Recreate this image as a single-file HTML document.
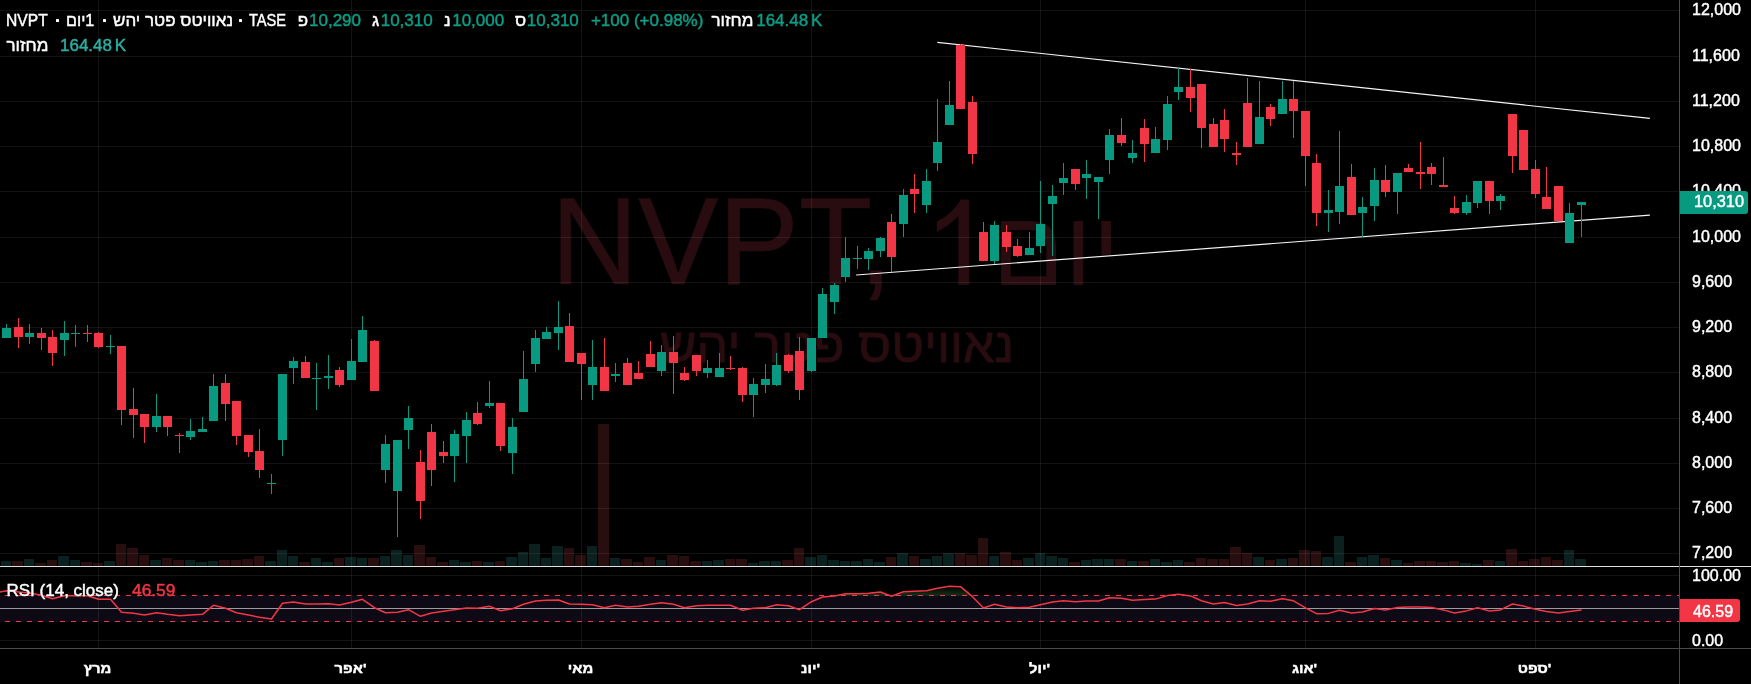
<!DOCTYPE html>
<html><head><meta charset="utf-8"><title>NVPT</title>
<style>
html,body{margin:0;padding:0;background:#000;}
body{width:1751px;height:684px;position:relative;overflow:hidden;font-family:"Liberation Sans",sans-serif;}
.t{position:absolute;white-space:nowrap;line-height:1.2;color:#fff;-webkit-text-stroke:0.45px;}
.w{-webkit-text-stroke:0;}
svg{position:absolute;left:0;top:0;}
</style></head><body>
<div class="t w" style="left:551px;top:180px;font-size:123.5px;color:#290c10;line-height:1;-webkit-text-stroke:0.6px #290c10;transform:scaleX(0.976);transform-origin:0 0">NVPT,</div><div class="t w" style="left:992px;top:194.5px;font-size:107px;color:#290c10;line-height:1;transform:scaleX(1.0);transform-origin:0 0"><span dir="rtl">יום</span></div><svg width="1751" height="684" viewBox="0 0 1751 684"><path d="M958.3 199.4H969.2V284.8H958.3V216Q949 226 936.8 232V221.5Q953 213 961 199.4Z" fill="#290c10"/></svg><div class="t w" style="left:537px;top:321.5px;width:600px;text-align:center;font-size:47.7px;color:#290c10;line-height:1;-webkit-text-stroke:0.9px #290c10;transform:scaleX(1.051);transform-origin:50% 0"><span dir="rtl">נאוויטס פטר יהש</span></div>
<svg width="1751" height="684" viewBox="0 0 1751 684" shape-rendering="crispEdges">
<rect x="1" y="561" width="10" height="5" fill="#0a211f"/>
<rect x="12" y="561" width="11" height="5" fill="#290e10"/>
<rect x="24" y="559" width="10" height="7" fill="#0a211f"/>
<rect x="35" y="563" width="11" height="3" fill="#290e10"/>
<rect x="47" y="560" width="10" height="6" fill="#290e10"/>
<rect x="58" y="556" width="11" height="10" fill="#0a211f"/>
<rect x="70" y="560" width="10" height="6" fill="#0a211f"/>
<rect x="81" y="562" width="11" height="4" fill="#290e10"/>
<rect x="93" y="563" width="10" height="3" fill="#290e10"/>
<rect x="104" y="561" width="11" height="5" fill="#0a211f"/>
<rect x="116" y="544" width="10" height="22" fill="#290e10"/>
<rect x="127" y="548" width="11" height="18" fill="#290e10"/>
<rect x="139" y="555" width="10" height="11" fill="#290e10"/>
<rect x="150" y="560" width="11" height="6" fill="#0a211f"/>
<rect x="162" y="558" width="10" height="8" fill="#290e10"/>
<rect x="173" y="560" width="11" height="6" fill="#290e10"/>
<rect x="185" y="560" width="10" height="6" fill="#0a211f"/>
<rect x="196" y="562" width="11" height="4" fill="#0a211f"/>
<rect x="208" y="561" width="10" height="5" fill="#0a211f"/>
<rect x="219" y="560" width="11" height="6" fill="#290e10"/>
<rect x="231" y="560" width="10" height="6" fill="#290e10"/>
<rect x="242" y="559" width="11" height="7" fill="#290e10"/>
<rect x="254" y="556" width="10" height="10" fill="#290e10"/>
<rect x="265" y="561" width="11" height="5" fill="#0a211f"/>
<rect x="277" y="550" width="10" height="16" fill="#0a211f"/>
<rect x="288" y="556" width="10" height="10" fill="#0a211f"/>
<rect x="299" y="562" width="11" height="4" fill="#290e10"/>
<rect x="311" y="558" width="10" height="8" fill="#0a211f"/>
<rect x="322" y="562" width="11" height="4" fill="#0a211f"/>
<rect x="334" y="558" width="10" height="8" fill="#290e10"/>
<rect x="345" y="557" width="11" height="9" fill="#0a211f"/>
<rect x="357" y="558" width="10" height="8" fill="#0a211f"/>
<rect x="368" y="558" width="11" height="8" fill="#290e10"/>
<rect x="380" y="556" width="10" height="10" fill="#0a211f"/>
<rect x="391" y="550" width="11" height="16" fill="#0a211f"/>
<rect x="403" y="555" width="10" height="11" fill="#0a211f"/>
<rect x="414" y="545" width="11" height="21" fill="#290e10"/>
<rect x="426" y="557" width="10" height="9" fill="#290e10"/>
<rect x="437" y="562" width="11" height="4" fill="#290e10"/>
<rect x="449" y="560" width="10" height="6" fill="#0a211f"/>
<rect x="460" y="562" width="11" height="4" fill="#0a211f"/>
<rect x="472" y="561" width="10" height="5" fill="#290e10"/>
<rect x="483" y="562" width="11" height="4" fill="#0a211f"/>
<rect x="495" y="561" width="10" height="5" fill="#290e10"/>
<rect x="506" y="557" width="11" height="9" fill="#0a211f"/>
<rect x="518" y="552" width="10" height="14" fill="#0a211f"/>
<rect x="529" y="544" width="11" height="22" fill="#0a211f"/>
<rect x="541" y="558" width="10" height="8" fill="#0a211f"/>
<rect x="552" y="546" width="11" height="20" fill="#0a211f"/>
<rect x="564" y="548" width="10" height="18" fill="#290e10"/>
<rect x="575" y="555" width="11" height="11" fill="#290e10"/>
<rect x="587" y="546" width="10" height="20" fill="#0a211f"/>
<rect x="598" y="424" width="11" height="142" fill="#290e10"/>
<rect x="610" y="558" width="10" height="8" fill="#0a211f"/>
<rect x="621" y="559" width="11" height="7" fill="#290e10"/>
<rect x="633" y="562" width="10" height="4" fill="#290e10"/>
<rect x="644" y="557" width="11" height="9" fill="#290e10"/>
<rect x="656" y="560" width="10" height="6" fill="#0a211f"/>
<rect x="667" y="555" width="11" height="11" fill="#290e10"/>
<rect x="679" y="556" width="10" height="10" fill="#290e10"/>
<rect x="690" y="561" width="11" height="5" fill="#290e10"/>
<rect x="702" y="561" width="10" height="5" fill="#0a211f"/>
<rect x="713" y="560" width="11" height="6" fill="#0a211f"/>
<rect x="725" y="559" width="10" height="7" fill="#290e10"/>
<rect x="736" y="559" width="11" height="7" fill="#290e10"/>
<rect x="748" y="563" width="10" height="3" fill="#0a211f"/>
<rect x="759" y="561" width="11" height="5" fill="#0a211f"/>
<rect x="771" y="561" width="10" height="5" fill="#0a211f"/>
<rect x="782" y="560" width="11" height="6" fill="#290e10"/>
<rect x="794" y="548" width="10" height="18" fill="#290e10"/>
<rect x="805" y="557" width="11" height="9" fill="#0a211f"/>
<rect x="817" y="555" width="10" height="11" fill="#0a211f"/>
<rect x="828" y="560" width="11" height="6" fill="#0a211f"/>
<rect x="840" y="561" width="10" height="5" fill="#0a211f"/>
<rect x="851" y="561" width="11" height="5" fill="#0a211f"/>
<rect x="863" y="559" width="10" height="7" fill="#0a211f"/>
<rect x="874" y="562" width="11" height="4" fill="#0a211f"/>
<rect x="886" y="557" width="10" height="9" fill="#290e10"/>
<rect x="897" y="553" width="11" height="13" fill="#0a211f"/>
<rect x="909" y="556" width="10" height="10" fill="#290e10"/>
<rect x="920" y="559" width="11" height="7" fill="#0a211f"/>
<rect x="932" y="556" width="10" height="10" fill="#0a211f"/>
<rect x="943" y="553" width="11" height="13" fill="#0a211f"/>
<rect x="955" y="553" width="10" height="13" fill="#290e10"/>
<rect x="966" y="555" width="11" height="11" fill="#290e10"/>
<rect x="978" y="538" width="10" height="28" fill="#290e10"/>
<rect x="989" y="556" width="10" height="10" fill="#0a211f"/>
<rect x="1000" y="552" width="11" height="14" fill="#290e10"/>
<rect x="1012" y="560" width="10" height="6" fill="#290e10"/>
<rect x="1023" y="558" width="11" height="8" fill="#0a211f"/>
<rect x="1035" y="553" width="10" height="13" fill="#0a211f"/>
<rect x="1046" y="556" width="11" height="10" fill="#0a211f"/>
<rect x="1058" y="558" width="10" height="8" fill="#0a211f"/>
<rect x="1069" y="562" width="11" height="4" fill="#290e10"/>
<rect x="1081" y="560" width="10" height="6" fill="#0a211f"/>
<rect x="1092" y="559" width="11" height="7" fill="#0a211f"/>
<rect x="1104" y="559" width="10" height="7" fill="#0a211f"/>
<rect x="1115" y="559" width="11" height="7" fill="#290e10"/>
<rect x="1127" y="561" width="10" height="5" fill="#0a211f"/>
<rect x="1138" y="561" width="11" height="5" fill="#290e10"/>
<rect x="1150" y="559" width="10" height="7" fill="#0a211f"/>
<rect x="1161" y="562" width="11" height="4" fill="#0a211f"/>
<rect x="1173" y="560" width="10" height="6" fill="#0a211f"/>
<rect x="1184" y="562" width="11" height="4" fill="#290e10"/>
<rect x="1196" y="558" width="10" height="8" fill="#290e10"/>
<rect x="1207" y="559" width="11" height="7" fill="#290e10"/>
<rect x="1219" y="559" width="10" height="7" fill="#290e10"/>
<rect x="1230" y="547" width="11" height="19" fill="#290e10"/>
<rect x="1242" y="553" width="10" height="13" fill="#290e10"/>
<rect x="1253" y="557" width="11" height="9" fill="#0a211f"/>
<rect x="1265" y="560" width="10" height="6" fill="#290e10"/>
<rect x="1276" y="559" width="11" height="7" fill="#0a211f"/>
<rect x="1288" y="558" width="10" height="8" fill="#290e10"/>
<rect x="1299" y="550" width="11" height="16" fill="#290e10"/>
<rect x="1311" y="551" width="10" height="15" fill="#290e10"/>
<rect x="1322" y="557" width="11" height="9" fill="#0a211f"/>
<rect x="1334" y="536" width="10" height="30" fill="#0a211f"/>
<rect x="1345" y="562" width="11" height="4" fill="#290e10"/>
<rect x="1357" y="557" width="10" height="9" fill="#0a211f"/>
<rect x="1368" y="555" width="11" height="11" fill="#0a211f"/>
<rect x="1380" y="558" width="10" height="8" fill="#290e10"/>
<rect x="1391" y="560" width="11" height="6" fill="#0a211f"/>
<rect x="1403" y="563" width="10" height="3" fill="#290e10"/>
<rect x="1414" y="561" width="11" height="5" fill="#290e10"/>
<rect x="1426" y="561" width="10" height="5" fill="#290e10"/>
<rect x="1437" y="562" width="11" height="4" fill="#290e10"/>
<rect x="1449" y="561" width="10" height="5" fill="#290e10"/>
<rect x="1460" y="563" width="11" height="3" fill="#0a211f"/>
<rect x="1472" y="564" width="10" height="2" fill="#0a211f"/>
<rect x="1483" y="560" width="11" height="6" fill="#290e10"/>
<rect x="1495" y="561" width="10" height="5" fill="#0a211f"/>
<rect x="1506" y="549" width="11" height="17" fill="#290e10"/>
<rect x="1518" y="561" width="10" height="5" fill="#290e10"/>
<rect x="1529" y="559" width="11" height="7" fill="#290e10"/>
<rect x="1541" y="557" width="10" height="9" fill="#290e10"/>
<rect x="1552" y="560" width="11" height="6" fill="#290e10"/>
<rect x="1564" y="550" width="10" height="16" fill="#0a211f"/>
<rect x="1575" y="559" width="11" height="7" fill="#0a211f"/>
<rect x="0" y="595" width="1679" height="27" fill="#0e0a15"/>
<rect x="0" y="10" width="1679" height="1" fill="rgba(255,255,255,0.075)"/>
<rect x="0" y="56" width="1679" height="1" fill="rgba(255,255,255,0.075)"/>
<rect x="0" y="101" width="1679" height="1" fill="rgba(255,255,255,0.075)"/>
<rect x="0" y="146" width="1679" height="1" fill="rgba(255,255,255,0.075)"/>
<rect x="0" y="191" width="1679" height="1" fill="rgba(255,255,255,0.075)"/>
<rect x="0" y="237" width="1679" height="1" fill="rgba(255,255,255,0.075)"/>
<rect x="0" y="282" width="1679" height="1" fill="rgba(255,255,255,0.075)"/>
<rect x="0" y="327" width="1679" height="1" fill="rgba(255,255,255,0.075)"/>
<rect x="0" y="372" width="1679" height="1" fill="rgba(255,255,255,0.075)"/>
<rect x="0" y="418" width="1679" height="1" fill="rgba(255,255,255,0.075)"/>
<rect x="0" y="463" width="1679" height="1" fill="rgba(255,255,255,0.075)"/>
<rect x="0" y="508" width="1679" height="1" fill="rgba(255,255,255,0.075)"/>
<rect x="0" y="553" width="1679" height="1" fill="rgba(255,255,255,0.075)"/>
<rect x="98" y="0" width="1" height="648" fill="rgba(255,255,255,0.075)"/>
<rect x="351" y="0" width="1" height="648" fill="rgba(255,255,255,0.075)"/>
<rect x="581" y="0" width="1" height="648" fill="rgba(255,255,255,0.075)"/>
<rect x="811" y="0" width="1" height="648" fill="rgba(255,255,255,0.075)"/>
<rect x="1040" y="0" width="1" height="648" fill="rgba(255,255,255,0.075)"/>
<rect x="1305" y="0" width="1" height="648" fill="rgba(255,255,255,0.075)"/>
<rect x="1535" y="0" width="1" height="648" fill="rgba(255,255,255,0.075)"/>
<rect x="0" y="575" width="1679" height="1" fill="rgba(255,255,255,0.075)"/>
<rect x="0" y="640" width="1679" height="1" fill="rgba(255,255,255,0.075)"/>
<line x1="937.3" y1="42.4" x2="1649.9" y2="118.4" stroke="#f4f4f4" stroke-width="1.15" shape-rendering="geometricPrecision"/>
<line x1="856.1" y1="275.0" x2="1649.9" y2="215.1" stroke="#f4f4f4" stroke-width="1.15" shape-rendering="geometricPrecision"/>
<rect x="6" y="324" width="1" height="14" fill="#089981"/>
<rect x="2" y="328" width="9" height="10" fill="#089981"/>
<rect x="18" y="318" width="1" height="30" fill="#f23645"/>
<rect x="14" y="327" width="9" height="10" fill="#f23645"/>
<rect x="29" y="324" width="1" height="20" fill="#089981"/>
<rect x="25" y="333" width="9" height="4" fill="#089981"/>
<rect x="41" y="328" width="1" height="22" fill="#f23645"/>
<rect x="37" y="333" width="9" height="5" fill="#f23645"/>
<rect x="52" y="330" width="1" height="36" fill="#f23645"/>
<rect x="48" y="337" width="9" height="16" fill="#f23645"/>
<rect x="64" y="321" width="1" height="35" fill="#089981"/>
<rect x="60" y="333" width="9" height="7" fill="#089981"/>
<rect x="75" y="325" width="1" height="22" fill="#089981"/>
<rect x="71" y="333" width="9" height="1" fill="#089981"/>
<rect x="87" y="325" width="1" height="17" fill="#f23645"/>
<rect x="83" y="333" width="9" height="1" fill="#f23645"/>
<rect x="98" y="332" width="1" height="16" fill="#f23645"/>
<rect x="94" y="333" width="9" height="14" fill="#f23645"/>
<rect x="110" y="335" width="1" height="19" fill="#089981"/>
<rect x="106" y="346" width="9" height="1" fill="#089981"/>
<rect x="121" y="346" width="1" height="79" fill="#f23645"/>
<rect x="117" y="346" width="9" height="64" fill="#f23645"/>
<rect x="133" y="388" width="1" height="50" fill="#f23645"/>
<rect x="129" y="409" width="9" height="6" fill="#f23645"/>
<rect x="144" y="414" width="1" height="29" fill="#f23645"/>
<rect x="140" y="414" width="9" height="13" fill="#f23645"/>
<rect x="156" y="394" width="1" height="38" fill="#089981"/>
<rect x="152" y="416" width="9" height="11" fill="#089981"/>
<rect x="167" y="416" width="1" height="20" fill="#f23645"/>
<rect x="163" y="416" width="9" height="11" fill="#f23645"/>
<rect x="179" y="433" width="1" height="20" fill="#f23645"/>
<rect x="175" y="435" width="9" height="1" fill="#f23645"/>
<rect x="190" y="419" width="1" height="21" fill="#089981"/>
<rect x="186" y="431" width="9" height="6" fill="#089981"/>
<rect x="202" y="417" width="1" height="15" fill="#089981"/>
<rect x="198" y="429" width="9" height="3" fill="#089981"/>
<rect x="213" y="374" width="1" height="47" fill="#089981"/>
<rect x="209" y="386" width="9" height="35" fill="#089981"/>
<rect x="225" y="374" width="1" height="47" fill="#f23645"/>
<rect x="221" y="383" width="9" height="21" fill="#f23645"/>
<rect x="236" y="401" width="1" height="44" fill="#f23645"/>
<rect x="232" y="401" width="9" height="35" fill="#f23645"/>
<rect x="248" y="435" width="1" height="22" fill="#f23645"/>
<rect x="244" y="435" width="9" height="17" fill="#f23645"/>
<rect x="259" y="429" width="1" height="49" fill="#f23645"/>
<rect x="255" y="451" width="9" height="19" fill="#f23645"/>
<rect x="271" y="474" width="1" height="20" fill="#089981"/>
<rect x="267" y="483" width="9" height="1" fill="#089981"/>
<rect x="282" y="374" width="1" height="82" fill="#089981"/>
<rect x="278" y="374" width="9" height="66" fill="#089981"/>
<rect x="293" y="357" width="1" height="27" fill="#089981"/>
<rect x="289" y="361" width="9" height="7" fill="#089981"/>
<rect x="305" y="356" width="1" height="22" fill="#f23645"/>
<rect x="301" y="362" width="9" height="16" fill="#f23645"/>
<rect x="316" y="363" width="1" height="47" fill="#089981"/>
<rect x="312" y="378" width="9" height="1" fill="#089981"/>
<rect x="328" y="355" width="1" height="34" fill="#089981"/>
<rect x="324" y="376" width="9" height="2" fill="#089981"/>
<rect x="339" y="367" width="1" height="20" fill="#f23645"/>
<rect x="335" y="370" width="9" height="15" fill="#f23645"/>
<rect x="351" y="339" width="1" height="41" fill="#089981"/>
<rect x="347" y="361" width="9" height="19" fill="#089981"/>
<rect x="362" y="316" width="1" height="46" fill="#089981"/>
<rect x="358" y="330" width="9" height="32" fill="#089981"/>
<rect x="374" y="340" width="1" height="51" fill="#f23645"/>
<rect x="370" y="341" width="9" height="50" fill="#f23645"/>
<rect x="385" y="435" width="1" height="48" fill="#089981"/>
<rect x="381" y="444" width="9" height="26" fill="#089981"/>
<rect x="397" y="440" width="1" height="97" fill="#089981"/>
<rect x="393" y="440" width="9" height="51" fill="#089981"/>
<rect x="408" y="406" width="1" height="43" fill="#089981"/>
<rect x="404" y="418" width="9" height="12" fill="#089981"/>
<rect x="420" y="450" width="1" height="69" fill="#f23645"/>
<rect x="416" y="462" width="9" height="39" fill="#f23645"/>
<rect x="431" y="424" width="1" height="62" fill="#f23645"/>
<rect x="427" y="432" width="9" height="38" fill="#f23645"/>
<rect x="443" y="441" width="1" height="22" fill="#f23645"/>
<rect x="439" y="452" width="9" height="4" fill="#f23645"/>
<rect x="454" y="430" width="1" height="52" fill="#089981"/>
<rect x="450" y="434" width="9" height="22" fill="#089981"/>
<rect x="466" y="412" width="1" height="51" fill="#089981"/>
<rect x="462" y="420" width="9" height="16" fill="#089981"/>
<rect x="477" y="402" width="1" height="23" fill="#f23645"/>
<rect x="473" y="413" width="9" height="11" fill="#f23645"/>
<rect x="489" y="381" width="1" height="27" fill="#089981"/>
<rect x="485" y="403" width="9" height="3" fill="#089981"/>
<rect x="500" y="403" width="1" height="48" fill="#f23645"/>
<rect x="496" y="403" width="9" height="43" fill="#f23645"/>
<rect x="512" y="418" width="1" height="56" fill="#089981"/>
<rect x="508" y="427" width="9" height="26" fill="#089981"/>
<rect x="523" y="351" width="1" height="61" fill="#089981"/>
<rect x="519" y="379" width="9" height="33" fill="#089981"/>
<rect x="535" y="330" width="1" height="42" fill="#089981"/>
<rect x="531" y="338" width="9" height="26" fill="#089981"/>
<rect x="546" y="327" width="1" height="12" fill="#089981"/>
<rect x="542" y="332" width="9" height="7" fill="#089981"/>
<rect x="558" y="301" width="1" height="49" fill="#089981"/>
<rect x="554" y="327" width="9" height="6" fill="#089981"/>
<rect x="569" y="313" width="1" height="49" fill="#f23645"/>
<rect x="565" y="326" width="9" height="36" fill="#f23645"/>
<rect x="581" y="353" width="1" height="47" fill="#f23645"/>
<rect x="577" y="353" width="9" height="11" fill="#f23645"/>
<rect x="592" y="340" width="1" height="60" fill="#089981"/>
<rect x="588" y="367" width="9" height="18" fill="#089981"/>
<rect x="604" y="338" width="1" height="53" fill="#f23645"/>
<rect x="600" y="367" width="9" height="24" fill="#f23645"/>
<rect x="615" y="363" width="1" height="19" fill="#089981"/>
<rect x="611" y="374" width="9" height="2" fill="#089981"/>
<rect x="627" y="358" width="1" height="27" fill="#f23645"/>
<rect x="623" y="363" width="9" height="22" fill="#f23645"/>
<rect x="638" y="361" width="1" height="18" fill="#f23645"/>
<rect x="634" y="373" width="9" height="6" fill="#f23645"/>
<rect x="650" y="341" width="1" height="26" fill="#f23645"/>
<rect x="646" y="354" width="9" height="13" fill="#f23645"/>
<rect x="661" y="345" width="1" height="31" fill="#089981"/>
<rect x="657" y="352" width="9" height="19" fill="#089981"/>
<rect x="673" y="336" width="1" height="58" fill="#f23645"/>
<rect x="669" y="352" width="9" height="11" fill="#f23645"/>
<rect x="684" y="367" width="1" height="14" fill="#f23645"/>
<rect x="680" y="373" width="9" height="7" fill="#f23645"/>
<rect x="696" y="355" width="1" height="21" fill="#f23645"/>
<rect x="692" y="355" width="9" height="16" fill="#f23645"/>
<rect x="707" y="360" width="1" height="18" fill="#089981"/>
<rect x="703" y="368" width="9" height="5" fill="#089981"/>
<rect x="719" y="353" width="1" height="24" fill="#089981"/>
<rect x="715" y="368" width="9" height="9" fill="#089981"/>
<rect x="730" y="356" width="1" height="14" fill="#f23645"/>
<rect x="726" y="368" width="9" height="1" fill="#f23645"/>
<rect x="742" y="367" width="1" height="35" fill="#f23645"/>
<rect x="738" y="368" width="9" height="27" fill="#f23645"/>
<rect x="753" y="378" width="1" height="39" fill="#089981"/>
<rect x="749" y="384" width="9" height="11" fill="#089981"/>
<rect x="765" y="364" width="1" height="29" fill="#089981"/>
<rect x="761" y="379" width="9" height="6" fill="#089981"/>
<rect x="776" y="353" width="1" height="33" fill="#089981"/>
<rect x="772" y="365" width="9" height="20" fill="#089981"/>
<rect x="788" y="354" width="1" height="19" fill="#f23645"/>
<rect x="784" y="355" width="9" height="16" fill="#f23645"/>
<rect x="799" y="337" width="1" height="63" fill="#f23645"/>
<rect x="795" y="351" width="9" height="39" fill="#f23645"/>
<rect x="811" y="338" width="1" height="34" fill="#089981"/>
<rect x="807" y="338" width="9" height="33" fill="#089981"/>
<rect x="822" y="288" width="1" height="50" fill="#089981"/>
<rect x="818" y="294" width="9" height="44" fill="#089981"/>
<rect x="834" y="283" width="1" height="31" fill="#089981"/>
<rect x="830" y="285" width="9" height="17" fill="#089981"/>
<rect x="845" y="237" width="1" height="45" fill="#089981"/>
<rect x="841" y="258" width="9" height="19" fill="#089981"/>
<rect x="857" y="246" width="1" height="23" fill="#089981"/>
<rect x="853" y="258" width="9" height="1" fill="#089981"/>
<rect x="868" y="248" width="1" height="22" fill="#089981"/>
<rect x="864" y="251" width="9" height="8" fill="#089981"/>
<rect x="880" y="237" width="1" height="20" fill="#089981"/>
<rect x="876" y="238" width="9" height="13" fill="#089981"/>
<rect x="891" y="214" width="1" height="58" fill="#f23645"/>
<rect x="887" y="222" width="9" height="35" fill="#f23645"/>
<rect x="903" y="189" width="1" height="48" fill="#089981"/>
<rect x="899" y="195" width="9" height="29" fill="#089981"/>
<rect x="914" y="174" width="1" height="39" fill="#f23645"/>
<rect x="910" y="189" width="9" height="5" fill="#f23645"/>
<rect x="926" y="169" width="1" height="44" fill="#089981"/>
<rect x="922" y="181" width="9" height="24" fill="#089981"/>
<rect x="937" y="99" width="1" height="72" fill="#089981"/>
<rect x="933" y="142" width="9" height="21" fill="#089981"/>
<rect x="949" y="81" width="1" height="44" fill="#089981"/>
<rect x="945" y="105" width="9" height="20" fill="#089981"/>
<rect x="960" y="44" width="1" height="65" fill="#f23645"/>
<rect x="956" y="45" width="9" height="64" fill="#f23645"/>
<rect x="972" y="96" width="1" height="68" fill="#f23645"/>
<rect x="968" y="102" width="9" height="52" fill="#f23645"/>
<rect x="983" y="222" width="1" height="39" fill="#f23645"/>
<rect x="979" y="232" width="9" height="29" fill="#f23645"/>
<rect x="994" y="221" width="1" height="43" fill="#089981"/>
<rect x="990" y="225" width="9" height="36" fill="#089981"/>
<rect x="1006" y="225" width="1" height="27" fill="#f23645"/>
<rect x="1002" y="232" width="9" height="15" fill="#f23645"/>
<rect x="1017" y="239" width="1" height="18" fill="#f23645"/>
<rect x="1013" y="246" width="9" height="10" fill="#f23645"/>
<rect x="1029" y="232" width="1" height="23" fill="#089981"/>
<rect x="1025" y="248" width="9" height="7" fill="#089981"/>
<rect x="1040" y="181" width="1" height="72" fill="#089981"/>
<rect x="1036" y="224" width="9" height="22" fill="#089981"/>
<rect x="1052" y="185" width="1" height="71" fill="#089981"/>
<rect x="1048" y="196" width="9" height="8" fill="#089981"/>
<rect x="1063" y="163" width="1" height="32" fill="#089981"/>
<rect x="1059" y="178" width="9" height="5" fill="#089981"/>
<rect x="1075" y="169" width="1" height="21" fill="#f23645"/>
<rect x="1071" y="169" width="9" height="15" fill="#f23645"/>
<rect x="1086" y="160" width="1" height="39" fill="#089981"/>
<rect x="1082" y="174" width="9" height="4" fill="#089981"/>
<rect x="1098" y="177" width="1" height="42" fill="#089981"/>
<rect x="1094" y="177" width="9" height="5" fill="#089981"/>
<rect x="1109" y="129" width="1" height="45" fill="#089981"/>
<rect x="1105" y="135" width="9" height="25" fill="#089981"/>
<rect x="1121" y="118" width="1" height="28" fill="#f23645"/>
<rect x="1117" y="135" width="9" height="8" fill="#f23645"/>
<rect x="1132" y="140" width="1" height="23" fill="#089981"/>
<rect x="1128" y="153" width="9" height="5" fill="#089981"/>
<rect x="1144" y="119" width="1" height="43" fill="#f23645"/>
<rect x="1140" y="128" width="9" height="16" fill="#f23645"/>
<rect x="1155" y="127" width="1" height="26" fill="#089981"/>
<rect x="1151" y="139" width="9" height="14" fill="#089981"/>
<rect x="1167" y="96" width="1" height="54" fill="#089981"/>
<rect x="1163" y="104" width="9" height="36" fill="#089981"/>
<rect x="1178" y="68" width="1" height="32" fill="#089981"/>
<rect x="1174" y="87" width="9" height="5" fill="#089981"/>
<rect x="1190" y="69" width="1" height="43" fill="#f23645"/>
<rect x="1186" y="87" width="9" height="11" fill="#f23645"/>
<rect x="1201" y="84" width="1" height="64" fill="#f23645"/>
<rect x="1197" y="84" width="9" height="44" fill="#f23645"/>
<rect x="1213" y="118" width="1" height="29" fill="#f23645"/>
<rect x="1209" y="124" width="9" height="23" fill="#f23645"/>
<rect x="1224" y="109" width="1" height="43" fill="#f23645"/>
<rect x="1220" y="120" width="9" height="19" fill="#f23645"/>
<rect x="1236" y="142" width="1" height="23" fill="#f23645"/>
<rect x="1232" y="153" width="9" height="2" fill="#f23645"/>
<rect x="1247" y="78" width="1" height="69" fill="#f23645"/>
<rect x="1243" y="103" width="9" height="44" fill="#f23645"/>
<rect x="1259" y="81" width="1" height="63" fill="#089981"/>
<rect x="1255" y="117" width="9" height="27" fill="#089981"/>
<rect x="1270" y="104" width="1" height="22" fill="#f23645"/>
<rect x="1266" y="107" width="9" height="12" fill="#f23645"/>
<rect x="1282" y="81" width="1" height="33" fill="#089981"/>
<rect x="1278" y="99" width="9" height="15" fill="#089981"/>
<rect x="1293" y="81" width="1" height="57" fill="#f23645"/>
<rect x="1289" y="99" width="9" height="12" fill="#f23645"/>
<rect x="1305" y="111" width="1" height="75" fill="#f23645"/>
<rect x="1301" y="111" width="9" height="45" fill="#f23645"/>
<rect x="1316" y="154" width="1" height="72" fill="#f23645"/>
<rect x="1312" y="163" width="9" height="50" fill="#f23645"/>
<rect x="1328" y="190" width="1" height="42" fill="#089981"/>
<rect x="1324" y="210" width="9" height="3" fill="#089981"/>
<rect x="1339" y="131" width="1" height="93" fill="#089981"/>
<rect x="1335" y="186" width="9" height="26" fill="#089981"/>
<rect x="1351" y="164" width="1" height="51" fill="#f23645"/>
<rect x="1347" y="177" width="9" height="38" fill="#f23645"/>
<rect x="1362" y="197" width="1" height="40" fill="#089981"/>
<rect x="1358" y="207" width="9" height="6" fill="#089981"/>
<rect x="1374" y="168" width="1" height="53" fill="#089981"/>
<rect x="1370" y="180" width="9" height="26" fill="#089981"/>
<rect x="1385" y="165" width="1" height="32" fill="#f23645"/>
<rect x="1381" y="180" width="9" height="12" fill="#f23645"/>
<rect x="1397" y="173" width="1" height="41" fill="#089981"/>
<rect x="1393" y="173" width="9" height="19" fill="#089981"/>
<rect x="1408" y="164" width="1" height="8" fill="#f23645"/>
<rect x="1404" y="168" width="9" height="4" fill="#f23645"/>
<rect x="1420" y="142" width="1" height="47" fill="#f23645"/>
<rect x="1416" y="172" width="9" height="2" fill="#f23645"/>
<rect x="1431" y="163" width="1" height="22" fill="#f23645"/>
<rect x="1427" y="167" width="9" height="7" fill="#f23645"/>
<rect x="1443" y="157" width="1" height="30" fill="#f23645"/>
<rect x="1439" y="185" width="9" height="2" fill="#f23645"/>
<rect x="1454" y="196" width="1" height="18" fill="#f23645"/>
<rect x="1450" y="208" width="9" height="5" fill="#f23645"/>
<rect x="1466" y="195" width="1" height="20" fill="#089981"/>
<rect x="1462" y="202" width="9" height="11" fill="#089981"/>
<rect x="1477" y="181" width="1" height="27" fill="#089981"/>
<rect x="1473" y="181" width="9" height="22" fill="#089981"/>
<rect x="1489" y="181" width="1" height="33" fill="#f23645"/>
<rect x="1485" y="181" width="9" height="20" fill="#f23645"/>
<rect x="1500" y="194" width="1" height="16" fill="#089981"/>
<rect x="1496" y="196" width="9" height="5" fill="#089981"/>
<rect x="1512" y="114" width="1" height="59" fill="#f23645"/>
<rect x="1508" y="114" width="9" height="42" fill="#f23645"/>
<rect x="1523" y="130" width="1" height="40" fill="#f23645"/>
<rect x="1519" y="130" width="9" height="40" fill="#f23645"/>
<rect x="1535" y="160" width="1" height="38" fill="#f23645"/>
<rect x="1531" y="169" width="9" height="25" fill="#f23645"/>
<rect x="1546" y="167" width="1" height="42" fill="#f23645"/>
<rect x="1542" y="197" width="9" height="12" fill="#f23645"/>
<rect x="1558" y="186" width="1" height="35" fill="#f23645"/>
<rect x="1554" y="186" width="9" height="35" fill="#f23645"/>
<rect x="1569" y="203" width="1" height="40" fill="#089981"/>
<rect x="1565" y="213" width="9" height="30" fill="#089981"/>
<rect x="1581" y="202" width="1" height="35" fill="#089981"/>
<rect x="1577" y="202" width="9" height="3" fill="#089981"/>
<rect x="0" y="566" width="1751" height="1" fill="#e0e0e0"/>
<rect x="0" y="648" width="1751" height="1" fill="#4a4a4a"/>
<rect x="1679" y="0" width="1" height="684" fill="#4a4a4a"/>
<line x1="5" y1="595.5" x2="1679" y2="595.5" stroke="#f23645" stroke-width="1" stroke-dasharray="5 6"/>
<line x1="5" y1="621.5" x2="1679" y2="621.5" stroke="#f23645" stroke-width="1" stroke-dasharray="5 6"/>
<rect x="0" y="608" width="1679" height="1" fill="#9a9aa0"/>
<defs><linearGradient id="ob" x1="0" y1="586" x2="0" y2="595.5" gradientUnits="userSpaceOnUse"><stop offset="0" stop-color="#4caf50" stop-opacity="0"/><stop offset="1" stop-color="#4caf50" stop-opacity="0.28"/></linearGradient></defs><polygon points="811.5,595.5 822.5,595.5 834.5,595.5 845.5,593.7 857.5,593.7 868.5,593.3 880.5,592.0 891.5,595.5 903.5,591.7 914.5,591.3 926.5,590.7 937.5,588.3 949.5,586.3 960.5,586.7 972.5,595.5 983.5,595.5 983.5,595.5 811.5,595.5" fill="url(#ob)" shape-rendering="geometricPrecision"/>
<polyline points="0,591.9 6.5,590.7 18.5,592.0 29.5,593.0 41.5,595.3 52.5,598.7 64.5,595.7 75.5,595.7 87.5,595.7 98.5,599.3 110.5,599.3 121.5,612.3 133.5,613.3 144.5,615.0 156.5,612.7 167.5,614.3 179.5,615.7 190.5,615.0 202.5,614.3 213.5,605.3 225.5,608.3 236.5,612.7 248.5,615.0 259.5,617.3 271.5,619.0 282.5,603.3 293.5,602.0 305.5,604.0 316.5,604.0 328.5,603.7 339.5,605.0 351.5,602.3 362.5,599.3 374.5,607.7 385.5,612.7 397.5,612.3 408.5,609.7 420.5,616.3 431.5,613.0 443.5,611.3 454.5,609.7 466.5,608.0 477.5,608.3 489.5,606.3 500.5,610.7 512.5,608.7 523.5,604.3 535.5,601.0 546.5,600.3 558.5,600.0 569.5,604.0 581.5,604.3 592.5,604.7 604.5,607.7 615.5,605.3 627.5,607.0 638.5,606.3 650.5,604.3 661.5,602.7 673.5,604.3 684.5,607.7 696.5,605.7 707.5,605.3 719.5,605.3 730.5,605.3 742.5,610.3 753.5,608.3 765.5,607.7 776.5,604.7 788.5,605.7 799.5,609.7 811.5,601.7 822.5,597.0 834.5,596.0 845.5,593.7 857.5,593.7 868.5,593.3 880.5,592.0 891.5,596.3 903.5,591.7 914.5,591.3 926.5,590.7 937.5,588.3 949.5,586.3 960.5,586.7 972.5,596.7 983.5,608.0 994.5,604.3 1006.5,607.0 1017.5,607.7 1029.5,607.3 1040.5,604.7 1052.5,602.0 1063.5,600.7 1075.5,601.7 1086.5,601.0 1098.5,601.0 1109.5,597.7 1121.5,598.3 1132.5,600.3 1144.5,599.4 1155.5,599.1 1167.5,595.6 1178.5,594.2 1190.5,595.9 1201.5,600.8 1213.5,604.0 1224.5,602.6 1236.5,605.4 1247.5,604.0 1259.5,600.8 1270.5,601.2 1282.5,598.7 1293.5,600.8 1305.5,607.8 1316.5,613.7 1328.5,613.4 1339.5,610.2 1351.5,613.0 1362.5,612.0 1374.5,608.5 1385.5,609.9 1397.5,607.5 1408.5,607.1 1420.5,607.1 1431.5,607.5 1443.5,609.9 1454.5,613.0 1466.5,610.9 1477.5,607.8 1489.5,610.9 1500.5,609.9 1512.5,604.0 1523.5,606.1 1535.5,609.2 1546.5,611.6 1558.5,613.0 1569.5,611.6 1581.5,609.9" fill="none" stroke="#f23645" stroke-width="1.5" stroke-linejoin="round" shape-rendering="geometricPrecision"/>
</svg>
<div id="txt" style="position:absolute;left:0;top:0;width:1751px;height:684px;will-change:transform"><div class="t" style="left:5.8px;top:10.7px;font-size:17px;color:#fff;transform:scaleX(0.92);transform-origin:0 0;">NVPT</div><div style="position:absolute;left:56.2px;top:19.3px;width:2.8px;height:2.8px;background:#fff;border-radius:0.6px"></div><div class="t" style="left:66.3px;top:10.7px;font-size:17px;color:#fff;transform:scaleX(0.95);transform-origin:0 0;"><span dir="rtl">1יום</span></div><div style="position:absolute;left:103.2px;top:19.3px;width:2.8px;height:2.8px;background:#fff;border-radius:0.6px"></div><div class="t" style="left:113px;top:10.7px;font-size:17px;color:#fff;"><span dir="rtl">נאוויטס פטר יהש</span></div><div style="position:absolute;left:239.2px;top:19.3px;width:2.8px;height:2.8px;background:#fff;border-radius:0.6px"></div><div class="t" style="left:249px;top:10.7px;font-size:17px;color:#fff;transform:scaleX(0.86);transform-origin:0 0;">TASE</div><div class="t" style="left:297.7px;top:10.7px;font-size:17px;color:#fff;">פ</div><div class="t" style="left:309px;top:10.7px;font-size:17px;color:#0a9e86;">10,290</div><div class="t" style="left:371.9px;top:10.7px;font-size:17px;color:#fff;">ג</div><div class="t" style="left:380.7px;top:10.7px;font-size:17px;color:#0a9e86;">10,310</div><div class="t" style="left:443.9px;top:10.7px;font-size:17px;color:#fff;">נ</div><div class="t" style="left:452.2px;top:10.7px;font-size:17px;color:#0a9e86;">10,000</div><div class="t" style="left:515px;top:10.7px;font-size:17px;color:#fff;">ס</div><div class="t" style="left:526.8px;top:10.7px;font-size:17px;color:#0a9e86;">10,310</div><div class="t" style="left:590.9px;top:10.7px;font-size:17px;color:#0a9e86;">+100 (+0.98%)</div><div class="t" style="left:711.5px;top:10.7px;font-size:17px;color:#fff;"><span dir="rtl">מחזור</span></div><div class="t" style="left:756.2px;top:10.7px;font-size:17px;color:#0a9e86;word-spacing:-2px;">164.48 K</div><div class="t" style="left:6.5px;top:36px;font-size:17px;color:#fff;"><span dir="rtl">מחזור</span></div><div class="t" style="left:60px;top:36px;font-size:17px;color:#2ab0a4;word-spacing:-2px;">164.48 K</div><div class="t" style="left:6.5px;top:580.9px;font-size:17px;color:#fff;">RSI (14, close)</div><div class="t" style="left:131.5px;top:580.9px;font-size:17px;color:#f23645;transform:scaleX(1.02);transform-origin:0 0;">46.59</div><div class="t" style="left:1692.2px;top:0.3000000000000007px;font-size:16.6px;color:#fff;transform:scaleX(0.965);transform-origin:0 0;">12,000</div><div class="t" style="left:1692.2px;top:46.3px;font-size:16.6px;color:#fff;transform:scaleX(0.965);transform-origin:0 0;">11,600</div><div class="t" style="left:1692.2px;top:91.3px;font-size:16.6px;color:#fff;transform:scaleX(0.965);transform-origin:0 0;">11,200</div><div class="t" style="left:1692.2px;top:136.3px;font-size:16.6px;color:#fff;transform:scaleX(0.965);transform-origin:0 0;">10,800</div><div class="t" style="left:1692.2px;top:181.3px;font-size:16.6px;color:#fff;transform:scaleX(0.965);transform-origin:0 0;">10,400</div><div class="t" style="left:1692.2px;top:227.3px;font-size:16.6px;color:#fff;transform:scaleX(0.965);transform-origin:0 0;">10,000</div><div class="t" style="left:1692.2px;top:272.3px;font-size:16.6px;color:#fff;transform:scaleX(0.965);transform-origin:0 0;">9,600</div><div class="t" style="left:1692.2px;top:317.3px;font-size:16.6px;color:#fff;transform:scaleX(0.965);transform-origin:0 0;">9,200</div><div class="t" style="left:1692.2px;top:362.3px;font-size:16.6px;color:#fff;transform:scaleX(0.965);transform-origin:0 0;">8,800</div><div class="t" style="left:1692.2px;top:408.3px;font-size:16.6px;color:#fff;transform:scaleX(0.965);transform-origin:0 0;">8,400</div><div class="t" style="left:1692.2px;top:453.3px;font-size:16.6px;color:#fff;transform:scaleX(0.965);transform-origin:0 0;">8,000</div><div class="t" style="left:1692.2px;top:498.3px;font-size:16.6px;color:#fff;transform:scaleX(0.965);transform-origin:0 0;">7,600</div><div class="t" style="left:1692.2px;top:543.3px;font-size:16.6px;color:#fff;transform:scaleX(0.965);transform-origin:0 0;">7,200</div><div class="t" style="left:1692.2px;top:565.9px;font-size:16.6px;color:#fff;transform:scaleX(0.965);transform-origin:0 0;">100.00</div><div class="t" style="left:1692.2px;top:630.6px;font-size:16.6px;color:#fff;transform:scaleX(0.965);transform-origin:0 0;">0.00</div><div style="position:absolute;left:1680px;top:191px;width:68px;height:23px;background:#089981;border-radius:0 3px 3px 0"></div><div class="t" style="left:1694.2px;top:191.5px;font-size:16.6px;color:#fff;transform:scaleX(0.985);transform-origin:0 0;">10,310</div><div style="position:absolute;left:1680px;top:599px;width:60px;height:23px;background:#f23645;border-radius:0 3px 3px 0"></div><div class="t" style="left:1693.2px;top:601.8px;font-size:16.6px;color:#fff;transform:scaleX(0.965);transform-origin:0 0;">46.59</div><div class="t m" style="left:57.4px;top:661.1px;width:81px;text-align:center;font-size:13.6px;font-weight:bold;transform:scaleX(1.09)">מרץ</div><div class="t m" style="left:310.4px;top:661.1px;width:81px;text-align:center;font-size:13.6px;font-weight:bold;transform:scaleX(1.09)">אפר'</div><div class="t m" style="left:540.4px;top:661.1px;width:81px;text-align:center;font-size:13.6px;font-weight:bold;transform:scaleX(1.09)">מאי</div><div class="t m" style="left:770.4px;top:661.1px;width:81px;text-align:center;font-size:13.6px;font-weight:bold;transform:scaleX(1.09)">יונ'</div><div class="t m" style="left:999.4px;top:661.1px;width:81px;text-align:center;font-size:13.6px;font-weight:bold;transform:scaleX(1.09)">יול'</div><div class="t m" style="left:1264.4px;top:661.1px;width:81px;text-align:center;font-size:13.6px;font-weight:bold;transform:scaleX(1.09)">אוג'</div><div class="t m" style="left:1494.4px;top:661.1px;width:81px;text-align:center;font-size:13.6px;font-weight:bold;transform:scaleX(1.09)">ספט'</div></div>
</body></html>
